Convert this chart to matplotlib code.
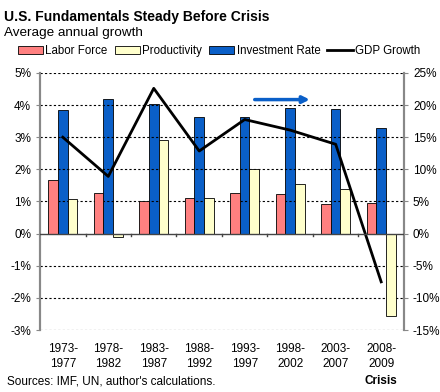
import matplotlib.pyplot as plt
import numpy as np

plt.rcParams['font.family'] = ['Liberation Sans', 'DejaVu Sans']

periods = ['1973-\n1977', '1978-\n1982', '1983-\n1987', '1988-\n1992',
           '1993-\n1997', '1998-\n2002', '2003-\n2007', '2008-\n2009']
labor_force = [1.66, 1.27, 1.03, 1.12, 1.27, 1.24, 0.91, 0.96]
productivity = [1.08, -0.09, 2.90, 1.12, 2.02, 1.55, 1.40, -2.56]
investment_rate = [19.2, 21.0, 20.2, 18.1, 18.1, 19.5, 19.4, 16.5]  # right axis
gdp_growth = [3.00, 1.78, 4.52, 2.57, 3.55, 3.22, 2.78, -1.50]

red = '#ff8080'
yellow = '#ffffcc'
blue = '#0a5fc8'

fig = plt.figure(figsize=(4.4, 3.92), dpi=100)
ax = fig.add_axes([0.091, 0.158, 0.827, 0.656])
ax2 = ax.twinx()
ax.set_zorder(ax2.get_zorder() + 1)
ax.patch.set_visible(False)

x = np.arange(len(periods))
w = 0.21
ax.bar(x - w, labor_force, w, color=red, edgecolor='black', linewidth=0.6)
ax.bar(x + w, productivity, w, color=yellow, edgecolor='black', linewidth=0.6)
ax2.bar(x, investment_rate, w, color=blue, edgecolor='black', linewidth=0.6)
ax.plot(x, gdp_growth, color='black', linewidth=2)

ax.set_xlim(-0.5, len(periods) - 0.5)
ax.set_ylim(-3, 5)
ax2.set_ylim(-15, 25)
ax.set_yticks(range(-3, 6))
ax.set_yticklabels([f'{v}%' for v in range(-3, 6)])
ax2.set_yticks(range(-15, 26, 5))
ax2.set_yticklabels([f'{v}%' for v in range(-15, 26, 5)])
for v in range(-3, 6):
    if v != 0:
        ax.axhline(v, color='black', linestyle=(0, (2, 2)), linewidth=0.8, zorder=0)
ax.axhline(0, color='#444444', linewidth=1, zorder=3)
for b in np.arange(0.5, len(periods) - 0.5):
    ax.plot([b, b], [0, -0.08], color='#444444', linewidth=1, clip_on=False)

for a in (ax, ax2):
    for s in ('top', 'bottom'):
        a.spines[s].set_visible(False)
    a.spines['left'].set_color('#888888')
    a.spines['right'].set_color('#888888')
    a.spines['left'].set_linewidth(1.5)
    a.spines['right'].set_linewidth(1.5)
    a.tick_params(axis='y', length=3, color='#888888', labelsize=8.5)
ax.set_xticks(x)
ax.set_xticklabels(periods, fontsize=8.5, linespacing=1.35)
ax.tick_params(axis='x', length=0, pad=9)

ax.annotate('', xy=(5.43, 4.17), xytext=(4.22, 4.17),
            arrowprops=dict(arrowstyle='-|>', color=blue, lw=2.5,
                            mutation_scale=10, shrinkA=0, shrinkB=0))

fig.text(0.008, 0.975, 'U.S. Fundamentals Steady Before Crisis', fontsize=10,
         fontweight='bold', va='top')
fig.text(0.008, 0.93, 'Average annual growth', fontsize=9.7, va='top')

handles = [plt.Rectangle((0, 0), 1, 1, facecolor=red, edgecolor='black', linewidth=0.6),
           plt.Rectangle((0, 0), 1, 1, facecolor=yellow, edgecolor='black', linewidth=0.6),
           plt.Rectangle((0, 0), 1, 1, facecolor=blue, edgecolor='black', linewidth=0.6),
           plt.Line2D([0], [0], color='black', linewidth=2)]
fig.legend(handles, ['Labor Force', 'Productivity', 'Investment Rate', 'GDP Growth'],
           loc='center left', bbox_to_anchor=(0.03, 0.87), ncol=4, frameon=False,
           fontsize=8.3, handlelength=2.2, handleheight=0.6, handletextpad=0.2,
           columnspacing=0.6, borderaxespad=0)

fig.text(0.015, 0.02, "Sources: IMF, UN, author's calculations.", fontsize=8.5)
fig.text(0.865, 0.02, 'Crisis', fontsize=8.5, fontweight='bold', ha='center')

fig.savefig('out.png', dpi=100)
